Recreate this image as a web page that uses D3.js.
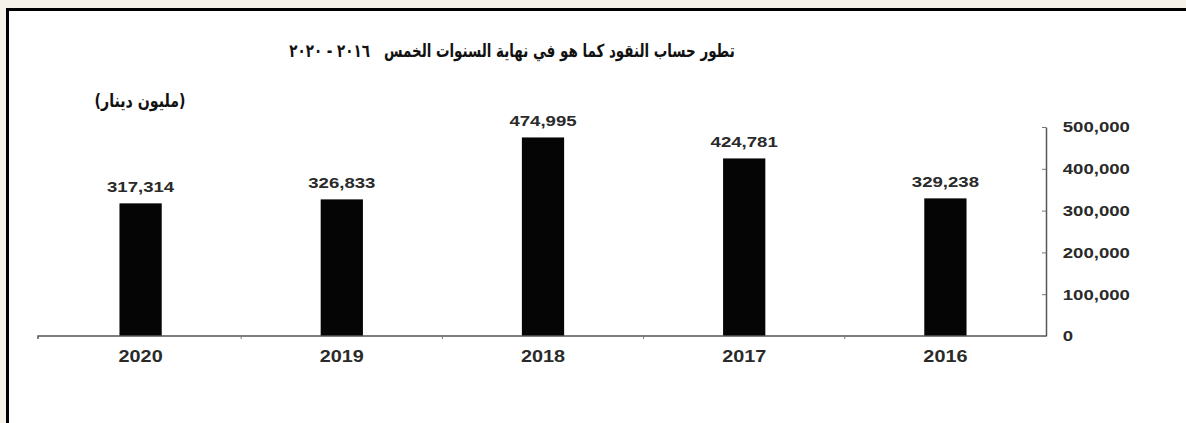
<!DOCTYPE html>
<html>
<head>
<meta charset="utf-8">
<script src="https://cdn.jsdelivr.net/npm/d3@7"></script>
<style>
  html, body { margin: 0; padding: 0; background: #f7f2e9; overflow: hidden; }
  svg { display: block; }
</style>
</head>
<body>
<svg id="chart" width="1186" height="423"></svg>
<script>
// Money account at year end, million dinars
const years = ["2020", "2019", "2018", "2017", "2016"];
const values = [317314, 326833, 474995, 424781, 329238];
const yTicks = [0, 100000, 200000, 300000, 400000, 500000];
const title = "تطور حساب النقود كما هو في نهاية السنوات الخمس\u00a0\u00a0\u00a0٢٠١٦ - ٢٠٢٠";
const unitLabel = "(مليون دينار)";

const W = 1186, H = 423;
const svg = d3.select("#chart");
const latin = "Liberation Sans, Arial, sans-serif";
const arabic = "DejaVu Sans, sans-serif";
const wide = 1.24; // horizontal stretch of the printed lettering

// framed white panel (open on the right and bottom)
svg.append("rect").attr("x", 0).attr("y", 0).attr("width", W).attr("height", H).attr("fill", "#f7f2e9");
svg.append("rect").attr("x", 9).attr("y", 11).attr("width", W).attr("height", H).attr("fill", "#ffffff");
svg.append("path").attr("d", `M7.5,${H}V9.5H${W}`)
  .attr("fill", "none").attr("stroke", "#000").attr("stroke-width", 3);

const plotLeft = 40, plotRight = 1046, plotTop = 127, plotBase = 336;

const x = d3.scaleBand().domain(years).range([plotLeft, plotRight])
  .paddingInner(0.79).paddingOuter(0.395);
const y = d3.scaleLinear().domain([0, 500000]).range([plotBase, plotTop]);

// bars
svg.append("g").selectAll("rect").data(years).join("rect")
  .attr("x", d => x(d))
  .attr("y", (d, i) => y(values[i]))
  .attr("width", x.bandwidth())
  .attr("height", (d, i) => y(0) - y(values[i]))
  .attr("fill", "#050505");

// value labels
svg.append("g").selectAll("text").data(years).join("text")
  .attr("transform", (d, i) =>
    `translate(${x(d) + x.bandwidth() / 2},${y(values[i]) - 11}) scale(${wide},1)`)
  .attr("text-anchor", "middle")
  .attr("font-family", latin)
  .attr("font-weight", "bold").attr("font-size", 15).attr("fill", "#2a2a2a")
  .text((d, i) => d3.format(",")(values[i]));

// category axis
const xAxis = svg.append("g").attr("transform", `translate(0,${plotBase})`)
  .call(d3.axisBottom(x).tickSize(0).tickPadding(15));
xAxis.select(".domain").attr("stroke", "#555").attr("stroke-width", 1.5)
  .attr("d", `M${plotLeft - 2},3V0H${plotRight}`);
xAxis.selectAll("text")
  .attr("transform", `scale(${wide},1)`)
  .attr("font-family", latin)
  .attr("font-weight", "bold").attr("font-size", 16).attr("fill", "#2a2a2a");

// category separators
const step = x.step();
svg.append("g").selectAll("line").data(years.slice(0, -1)).join("line")
  .attr("x1", d => x(d) + x.bandwidth() + (step - x.bandwidth()) / 2)
  .attr("x2", d => x(d) + x.bandwidth() + (step - x.bandwidth()) / 2)
  .attr("y1", plotBase).attr("y2", plotBase + 3)
  .attr("stroke", "#777").attr("stroke-width", 1);

// value axis on the right
const yAxis = svg.append("g").attr("transform", `translate(${plotRight},0)`)
  .call(d3.axisRight(y).tickValues(yTicks).tickFormat(d3.format(","))
    .tickSizeInner(-4).tickSizeOuter(0).tickPadding(13.5));
yAxis.select(".domain").attr("stroke", "#555").attr("stroke-width", 1.5);
yAxis.selectAll(".tick line").attr("stroke", "#777");
yAxis.selectAll("text")
  .attr("transform", `scale(${wide},1)`)
  .attr("font-family", latin)
  .attr("font-weight", "bold").attr("font-size", 15).attr("fill", "#2a2a2a");

// Arabic headings, fitted to their printed width
function heading(text, cx, cy, size, width) {
  const t = svg.append("text")
    .attr("text-anchor", "middle").attr("direction", "rtl")
    .attr("font-family", arabic)
    .attr("font-weight", "bold").attr("font-size", size).attr("fill", "#111")
    .text(text);
  const len = t.node().getComputedTextLength();
  t.attr("transform", `translate(${cx},${cy}) scale(${width / len},1)`);
}
heading(title, 512, 57, 18, 446);
heading(unitLabel, 140, 107, 18, 91);
</script>
</body>
</html>
